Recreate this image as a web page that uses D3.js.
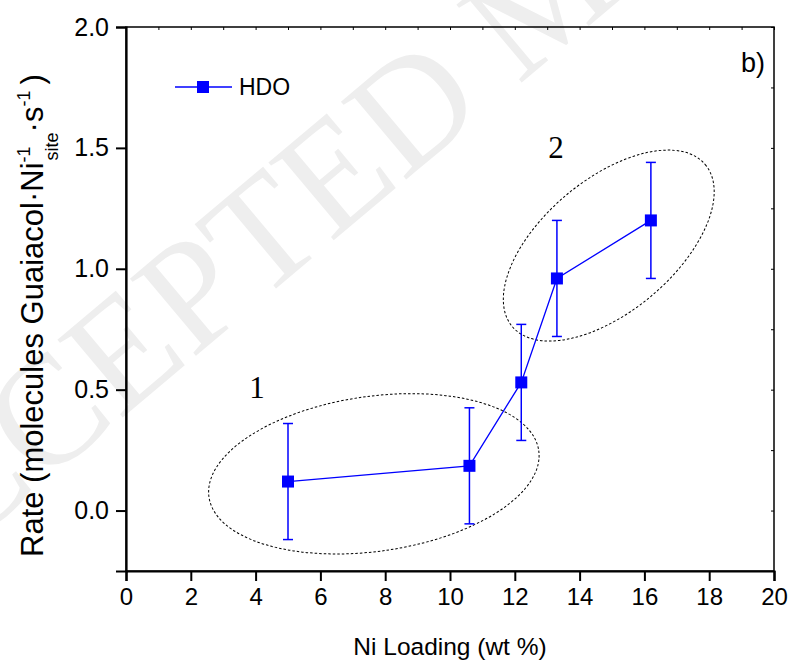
<!DOCTYPE html>
<html><head><meta charset="utf-8">
<script src="https://cdn.jsdelivr.net/npm/d3@7"></script>
<style>body{margin:0;background:#fff}svg{display:block}text{font-family:Arial,"Liberation Sans",sans-serif}</style>
</head><body>
<script>
// ---- data ----
const niLoading = [5.0, 10.6, 12.2, 13.3, 16.2];
const rate      = [0.12, 0.185, 0.53, 0.96, 1.20];
const rateErr   = [0.24, 0.24, 0.24, 0.24, 0.24];
const xMajorTicks = [0, 2, 4, 6, 8, 10, 12, 14, 16, 18, 20];
const yMajorTicks = [0.0, 0.5, 1.0, 1.5, 2.0];
const seriesName = "HDO";
const groupLabels = ["1", "2"];
const groupCenterX = [7.65, 14.9];
const groupCenterY = [0.152, 1.096];
const groupLabelX = [4.04, 13.27];
const groupLabelY = [0.466, 1.458];

const W = 791, H = 660;
const svg = d3.select("body").append("svg").attr("width", W).attr("height", H);
const x = d3.scaleLinear().domain([0, 20]).range([126, 774]);
const y = d3.scaleLinear().domain([-0.25, 2.0]).range([571, 27]);

// watermark
svg.append("text").attr("transform", "translate(-125,625) rotate(-40)")
  .style("font-family", "'Liberation Serif','Times New Roman',serif")
  .attr("font-size", 155).attr("fill", "#eeeeee")
  .text("ACCEPTED MANUSCRIPT");

// frame
svg.append("rect").attr("x", x(0)).attr("y", y(2)).attr("width", x(20) - x(0)).attr("height", y(-0.25) - y(2))
  .attr("fill", "none").attr("stroke", "#000").attr("stroke-width", 1.5);

// bottom axis
const gx = svg.append("g").attr("transform", `translate(0,${y(-0.25)})`);
gx.call(d3.axisBottom(x).tickValues(d3.range(1, 20, 2)).tickSize(5).tickFormat(""));
gx.call(d3.axisBottom(x).tickValues(xMajorTicks).tickSize(10).tickPadding(7).tickFormat(d3.format("d")));
gx.selectAll("path.domain").attr("stroke-width", 2.2);
gx.selectAll("line").attr("stroke-width", 2);
gx.selectAll("text").attr("font-size", 24).attr("fill", "#000");

// left axis
const gy = svg.append("g").attr("transform", `translate(${x(0)},0)`);
gy.call(d3.axisLeft(y).tickValues([-0.25, 0.25, 0.75, 1.25, 1.75]).tickSize(5).tickFormat(""));
gy.call(d3.axisLeft(y).tickValues(yMajorTicks).tickSize(10).tickPadding(7).tickFormat(d3.format(".1f")));
gy.selectAll("path.domain").attr("stroke-width", 2.2);
gy.selectAll("line").attr("stroke-width", 2);
gy.selectAll("text").attr("font-size", 25).attr("fill", "#000");

// top & right inner ticks
const gt = svg.append("g").attr("transform", `translate(0,${y(2)})`);
gt.call(d3.axisBottom(x).tickValues(d3.range(0, 21, 1)).tickSize(3).tickFormat(""));
gt.select("path.domain").remove();
const gr = svg.append("g").attr("transform", `translate(${x(20)},0)`);
gr.call(d3.axisLeft(y).tickValues([-0.25, 0, 0.25, 0.5, 0.75, 1, 1.25, 1.5, 1.75, 2]).tickSize(3).tickFormat(""));
gr.select("path.domain").remove();

// axis titles
svg.append("text").attr("x", 450).attr("y", 655).attr("text-anchor", "middle")
  .attr("font-size", 24.5).text("Ni Loading (wt %)");
const yt = svg.append("text").attr("transform", "translate(43,557) rotate(-90)").attr("font-size", 31);
yt.append("tspan").text("Rate (molecules Guaiacol\u00B7Ni");
yt.append("tspan").attr("font-size", 18).attr("dy", -13).text("-1");
yt.append("tspan").attr("font-size", 18).attr("dx", -14).attr("dy", 28).text("site");
yt.append("tspan").attr("dy", -15).text("\u00B7s");
yt.append("tspan").attr("font-size", 18).attr("dy", -13).text("-1");
yt.append("tspan").attr("dx", 6).attr("dy", 13).text(")");

// panel label
svg.append("text").attr("x", 765).attr("y", 72).attr("text-anchor", "end").attr("font-size", 27).text("b)");

// ellipses
const ellR = [[166.5, 77.5, -8], [126, 66, -40]];
groupLabels.forEach((g, i) => {
  svg.append("ellipse")
    .attr("transform", `translate(${x(groupCenterX[i])},${y(groupCenterY[i])}) rotate(${ellR[i][2]})`)
    .attr("rx", ellR[i][0]).attr("ry", ellR[i][1])
    .attr("fill", "none").attr("stroke", "#000").attr("stroke-width", 1).attr("stroke-dasharray", "2.5,2");
  svg.append("text").attr("x", x(groupLabelX[i])).attr("y", y(groupLabelY[i]))
    .attr("text-anchor", "middle").attr("font-size", 31)
    .style("font-family", "'Liberation Serif','Times New Roman',serif").text(g);
});

// series
const pts = niLoading.map((v, i) => ({x: v, y: rate[i], e: rateErr[i]}));
const blue = "#0000ff";
svg.append("path").datum(pts)
  .attr("d", d3.line().x(d => x(d.x)).y(d => y(d.y)))
  .attr("fill", "none").attr("stroke", blue).attr("stroke-width", 1.3);
const eb = svg.append("g").attr("stroke", blue).attr("stroke-width", 1.5);
pts.forEach(d => {
  eb.append("line").attr("x1", x(d.x)).attr("x2", x(d.x)).attr("y1", y(d.y - d.e)).attr("y2", y(d.y + d.e));
  [d.y - d.e, d.y + d.e].forEach(v => eb.append("line")
    .attr("x1", x(d.x) - 5).attr("x2", x(d.x) + 5).attr("y1", y(v)).attr("y2", y(v)));
});
svg.append("g").selectAll("rect").data(pts).join("rect")
  .attr("x", d => x(d.x) - 6).attr("y", d => y(d.y) - 6).attr("width", 12).attr("height", 12)
  .attr("fill", blue);

// legend
svg.append("line").attr("x1", 175).attr("x2", 232).attr("y1", 87).attr("y2", 87).attr("stroke", blue).attr("stroke-width", 1.3);
svg.append("rect").attr("x", 197).attr("y", 81).attr("width", 12).attr("height", 12).attr("fill", blue);
svg.append("text").attr("x", 239).attr("y", 95).attr("font-size", 23).text(seriesName);
</script>
</body></html>
